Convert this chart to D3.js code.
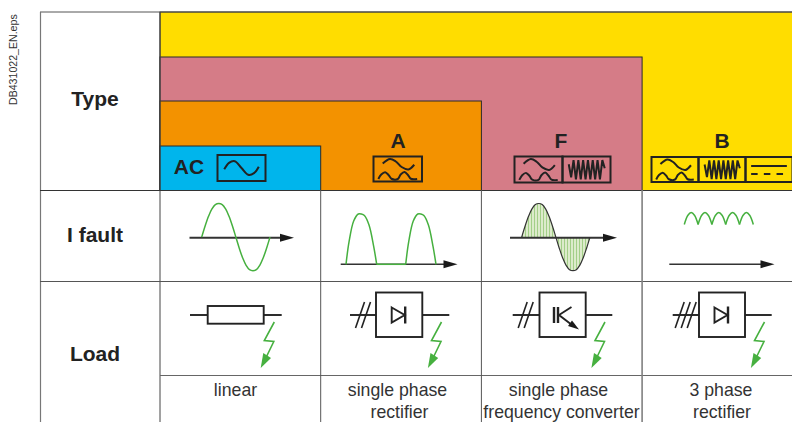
<!DOCTYPE html>
<html lang="en">
<head>
<meta charset="UTF-8">
<title>Residual current device types</title>
<script src="https://d3js.org/d3.v7.min.js"></script>
<style>
    html, body { margin: 0; padding: 0; background: #fff; overflow: hidden; }
    svg { display: block; font-family: "Liberation Sans", Arial, sans-serif; }
    .rowhead { font-size: 21px; font-weight: bold; fill: #222; text-anchor: middle; }
    .typehead { font-size: 21px; font-weight: bold; fill: #222; text-anchor: middle; }
    .caption { font-size: 17.7px; fill: #333; text-anchor: middle; }
    .glyph { fill: none; stroke: #222; stroke-width: 2px; }
    .sym { fill: none; stroke: #222; stroke-width: 1.9px; }
    .arrow { fill: #1a1a1a; stroke: none; }
    .green { fill: none; stroke: #46b03f; stroke-width: 1.5px; }
</style>
</head>
<body>
<svg id="chart" width="792" height="422"></svg>
<script>
// table content
const columns = ["AC", "A", "F", "B"];
const rowLabels = ["Type", "I fault", "Load"];
const captions = [["linear"], ["single phase", "rectifier"], ["single phase", "frequency converter"], ["3 phase", "rectifier"]];
const typeColors = ["#00b5ec", "#f39200", "#d57c87", "#ffdd00"];
const fileTag = "DB431022_EN.eps";
const slashCounts = [0, 2, 2, 3];

// waveforms (x 0..1, y -1..1)
const cycleX = [0, .05, .1, .15, .2, .25, .3, .35, .4, .45, .5, .55, .6, .65, .7, .75, .8, .85, .9, .95, 1];
const cycleY = [0, .33, .62, .84, .97, 1, .97, .84, .62, .33, 0, -.33, -.62, -.84, -.97, -1, -.97, -.84, -.62, -.33, 0];
const humpX = [0, .1, .25, .4, .5, .6, .75, .9, 1];
const humpY = [0, .45, .86, 1, 1, .97, .78, .36, 0];
const rippleY = [0, .75, 1, .75, 0];

// type icon glyphs (unit box)
const glyphSine = [[.19, .28], [.34, .1], [.46, .2], [.58, .42], [.72, .52], [.84, .33]];
const glyphHumps = [[.1, .9], [.16, .72], [.24, .63], [.31, .74], [.37, .89], [.5, .9], [.56, .72], [.64, .62], [.71, .74], [.77, .89], [.9, .9]];
const glyphZig = [[.13, .3], [.18, .8], [.23, .14], [.28, .88], [.33, .14], [.38, .88], [.43, .14], [.48, .88], [.53, .14], [.58, .88], [.63, .14], [.68, .88], [.73, .14], [.78, .88], [.83, .14], [.88, .45]];
const glyphSolid = [[.12, .36], [.88, .36]];
const glyphDash = [[.12, .68], [.88, .68]];
const acGlyph = [[.14, .55], [.24, .3], [.36, .24], [.5, .5], [.64, .76], [.76, .7], [.86, .45]];

// bolt (offsets in px, from the bolt's top)
const boltLine = [[0, 0], [-10, 18.5], [-.5, 19.5], [-8, 35]];
const boltHead = [[-13.6, 46], [-11, 31], [-3.3, 36]];

const svg = d3.select("#chart");
const x = d3.scaleLinear().domain([0, 4]).range([160, 802.8]);
const rows = d3.scaleOrdinal().domain(["top", "type", "fault", "load"]).range([12, 190.5, 281.5, 375.5]);

const curve = d3.line().curve(d3.curveCatmullRom.alpha(.5));
const poly = d3.line();

function arrowAxis(g, x0, x1, y, w) {
    g.append("path").attr("class", "sym")
        .attr("style", `stroke-width:${w}px;stroke:#333`)
        .attr("d", poly([[x0, y], [x1 - 8, y]]));
    g.append("path").attr("class", "arrow")
        .attr("d", poly([[x1 - 14, y - 4], [x1, y], [x1 - 14, y + 4]]) + "Z");
}

// Type panels, biggest first
[[3, 12], [2, 57], [1, 101], [0, 146]].forEach(([i, top]) => {
    svg.append("rect")
        .attr("x", x(0)).attr("y", top)
        .attr("width", x(i + 1) - x(0)).attr("height", rows("type") - top)
        .attr("fill", typeColors[i]).attr("stroke", "#2b2b2b").attr("stroke-width", 1);
});

// table rules
const rule = (x1, y1, x2, y2, c, w) => svg.append("line")
    .attr("x1", x1).attr("y1", y1).attr("x2", x2).attr("y2", y2)
    .attr("stroke", c).attr("stroke-width", w);
rule(40, 12, 792, 12, "#555", 1);
rule(40.5, 12, 40.5, 422, "#777", 1.2);
rule(160, 12, 160, 422, "#444", 1);
rule(40, rows("type"), 792, rows("type"), "#333", 1);
rule(40, rows("fault"), 792, rows("fault"), "#555", 1);
rule(160, rows("load"), 792, rows("load"), "#666", 1);
rule(x(1), 190, x(1), 422, "#555", 1);
rule(x(2), 190, x(2), 422, "#555", 1);
rule(x(3), 190, x(3), 422, "#808080", 1.6);

// row heads
[106, 242, 361].forEach((y, i) => {
    svg.append("text").attr("class", "rowhead").attr("x", 95).attr("y", y).text(rowLabels[i]);
});

svg.append("text").attr("transform", "translate(17,105) rotate(-90)")
    .attr("font-size", 10.6).attr("fill", "#333").text(fileTag);

// type headings and icons
function iconBox(left, top, w, h) {
    const g = svg.append("g");
    g.append("rect").attr("x", left).attr("y", top).attr("width", w).attr("height", h)
        .attr("fill", "none").attr("stroke", "#222").attr("stroke-width", 2);
    return g;
}
function glyph(g, pts, left, top, w, h, smooth, dash) {
    const sx = d3.scaleLinear().domain([0, 1]).range([left, left + w]);
    const sy = d3.scaleLinear().domain([0, 1]).range([top, top + h]);
    const p = pts.map(d => [sx(d[0]), sy(d[1])]);
    g.append("path").attr("class", "glyph").attr("d", (smooth ? curve : poly)(p))
        .attr("stroke-dasharray", dash || null);
}
function filterGlyph(g, left, top, w, h) {
    glyph(g, glyphSine, left, top, w, h, true);
    glyph(g, glyphHumps, left, top, w, h, true);
}

svg.append("text").attr("class", "typehead").attr("x", 189).attr("y", 174).text(columns[0]);
const acIcon = iconBox(217.5, 155, 48, 26);
glyph(acIcon, acGlyph, 217.5, 155, 48, 26, true);

[398, 561, 722].forEach((cx, i) => {
    svg.append("text").attr("class", "typehead").attr("x", cx).attr("y", 148).text(columns[i + 1]);
});

const aIcon = iconBox(373.5, 156.5, 48.5, 25);
filterGlyph(aIcon, 373.5, 156.5, 48.5, 25);

const fIcon = iconBox(514.5, 156.5, 48, 26);
filterGlyph(fIcon, 514.5, 156.5, 48, 26);
const fIcon2 = iconBox(562.5, 156.5, 48, 26);
glyph(fIcon2, glyphZig, 562.5, 156.5, 48, 26, false);

const bIcon = iconBox(651.5, 157, 47, 25);
filterGlyph(bIcon, 651.5, 157, 47, 25);
const bIcon2 = iconBox(698.5, 157, 47, 25);
glyph(bIcon2, glyphZig, 698.5, 157, 47, 25, false);
const bIcon3 = iconBox(745.5, 157, 47, 25);
glyph(bIcon3, glyphSolid, 745.5, 157, 47, 25, false);
glyph(bIcon3, glyphDash, 745.5, 157, 47, 25, false, "6.5 6.2");

// I fault row
const faultG = svg.append("g");
function sineWave(x0, x1) {
    const sx = d3.scaleLinear().domain([0, 1]).range([x0, x1]);
    const sy = d3.scaleLinear().domain([-1, 1]).range([270.7, 203.5]);
    return cycleX.map((d, i) => [sx(d), sy(cycleY[i])]);
}
arrowAxis(faultG, 189.5, 294, 237.7, 2);
faultG.append("path").attr("class", "green").attr("d", curve(sineWave(201.7, 270)));

// half-wave rectified
arrowAxis(faultG, 340.7, 457.5, 264.3, 1.5);
const halfY = d3.scaleLinear().domain([0, 1]).range([264.3, 214]);
[[346, 376.7], [405.7, 436]].forEach(([a, b]) => {
    const hx = d3.scaleLinear().domain([0, 1]).range([a, b]);
    const pts = humpX.map((d, i) => [hx(d), halfY(humpY[i])]);
    faultG.append("path").attr("class", "green").attr("d", curve(pts));
});
faultG.append("line").attr("class", "green").attr("x1", 376.7).attr("x2", 405.7).attr("y1", 264.3).attr("y2", 264.3);

// hatched sine
const defs = svg.append("defs");
const pat = defs.append("pattern").attr("id", "hatch").attr("patternUnits", "userSpaceOnUse")
    .attr("width", 3).attr("height", 4);
pat.append("rect").attr("width", 3).attr("height", 4).attr("fill", "#dcebcb");
pat.append("rect").attr("width", 1).attr("height", 4).attr("fill", "#a3cf88");
const hatchPts = sineWave(521.7, 590);
faultG.append("path")
    .attr("d", d3.area().curve(d3.curveCatmullRom.alpha(.5)).x(d => d[0]).y0(237.7).y1(d => d[1])(hatchPts))
    .attr("fill", "url(#hatch)");
arrowAxis(faultG, 510, 617, 237.7, 2);
faultG.append("path").attr("d", curve(hatchPts)).attr("fill", "none").attr("stroke", "#333").attr("stroke-width", 1.2);

// ripple dc
const rippleX = d3.scaleLinear().domain([0, 5]).range([684.3, 753.3]);
const rippleScaleY = d3.scaleLinear().domain([0, 1]).range([224.5, 212.5]);
d3.range(5).forEach(k => {
    const step = d3.scaleLinear().domain([0, 4]).range([k, k + 1]);
    const pts = rippleY.map((d, i) => [rippleX(step(i)), rippleScaleY(d)]);
    faultG.append("path").attr("class", "green").attr("d", curve(pts));
});
arrowAxis(faultG, 669.3, 774.5, 264.3, 1.5);

// Load row
const loadG = svg.append("g");
const symY = 315;
function bolt(top) {
    const p = boltLine.map(d => [top + d[0], 322 + d[1]]);
    loadG.append("path").attr("class", "green").attr("d", poly(p)).attr("style", "stroke-width:1.6px");
    loadG.append("path").attr("fill", "#46b03f")
        .attr("d", poly(boltHead.map(d => [top + d[0], 322 + d[1]])) + "Z");
}
function hline(a, b) {
    loadG.append("line").attr("class", "sym").attr("x1", a).attr("x2", b).attr("y1", symY).attr("y2", symY);
}
function diodeBox(a, b, lineLeft, lineRight, count) {
    loadG.append("rect").attr("class", "sym").attr("x", a).attr("y", 292.5)
        .attr("width", b - a).attr("height", 44.5);
    hline(lineLeft, a);
    hline(b, lineRight);
    const mid = lineLeft + 13;
    d3.range(count).forEach(k => {
        const cx = mid + (k - (count - 1) / 2) * 6;
        loadG.append("line").attr("class", "sym").attr("style", "stroke-width:1.6px")
            .attr("x1", cx - 4.5).attr("y1", symY + 13).attr("x2", cx + 4.5).attr("y2", symY - 13);
    });
}
function diode(a) {
    loadG.append("path").attr("class", "sym")
        .attr("d", poly([[a, 307.5], [a + 13, 315], [a, 322.5]]) + "Z");
    loadG.append("line").attr("class", "sym").attr("style", "stroke-width:2.4px")
        .attr("x1", a + 13.5).attr("x2", a + 13.5).attr("y1", 306.5).attr("y2", 323.5);
}

// resistor
hline(190, 207.7);
hline(263.7, 281.7);
loadG.append("rect").attr("class", "sym").attr("x", 207.7).attr("y", 306)
    .attr("width", 56).attr("height", 17.7);
bolt(274.3);

diodeBox(376, 422.3, 350, 449.3, slashCounts[1]);
diode(391.7);
bolt(441.5);

diodeBox(539.5, 585.7, 512.7, 612.3, slashCounts[2]);
[554, 558].forEach(v => loadG.append("line").attr("stroke", "#222").attr("stroke-width", 2.4)
    .attr("x1", v).attr("x2", v).attr("y1", 307).attr("y2", 323));
loadG.append("path").attr("class", "sym").attr("d", poly([[571.5, 307], [559, 315], [572, 325]]));
loadG.append("path").attr("class", "arrow").attr("d", poly([[579, 329.5], [568, 326], [572, 320.5]]) + "Z");
bolt(605);

diodeBox(699, 745, 672.7, 771.7, slashCounts[3]);
diode(714.5);
bolt(764.5);

// captions, centres differ slightly per line in the original
const captionX = [[235.5], [397.5, 399.5], [558.5, 561.5], [721, 722]];
captions.forEach((lines, i) => {
    lines.forEach((t, j) => {
        svg.append("text").attr("class", "caption")
            .attr("x", captionX[i][j]).attr("y", 396 + j * 21.5).text(t);
    });
});
</script>
</body>
</html>
